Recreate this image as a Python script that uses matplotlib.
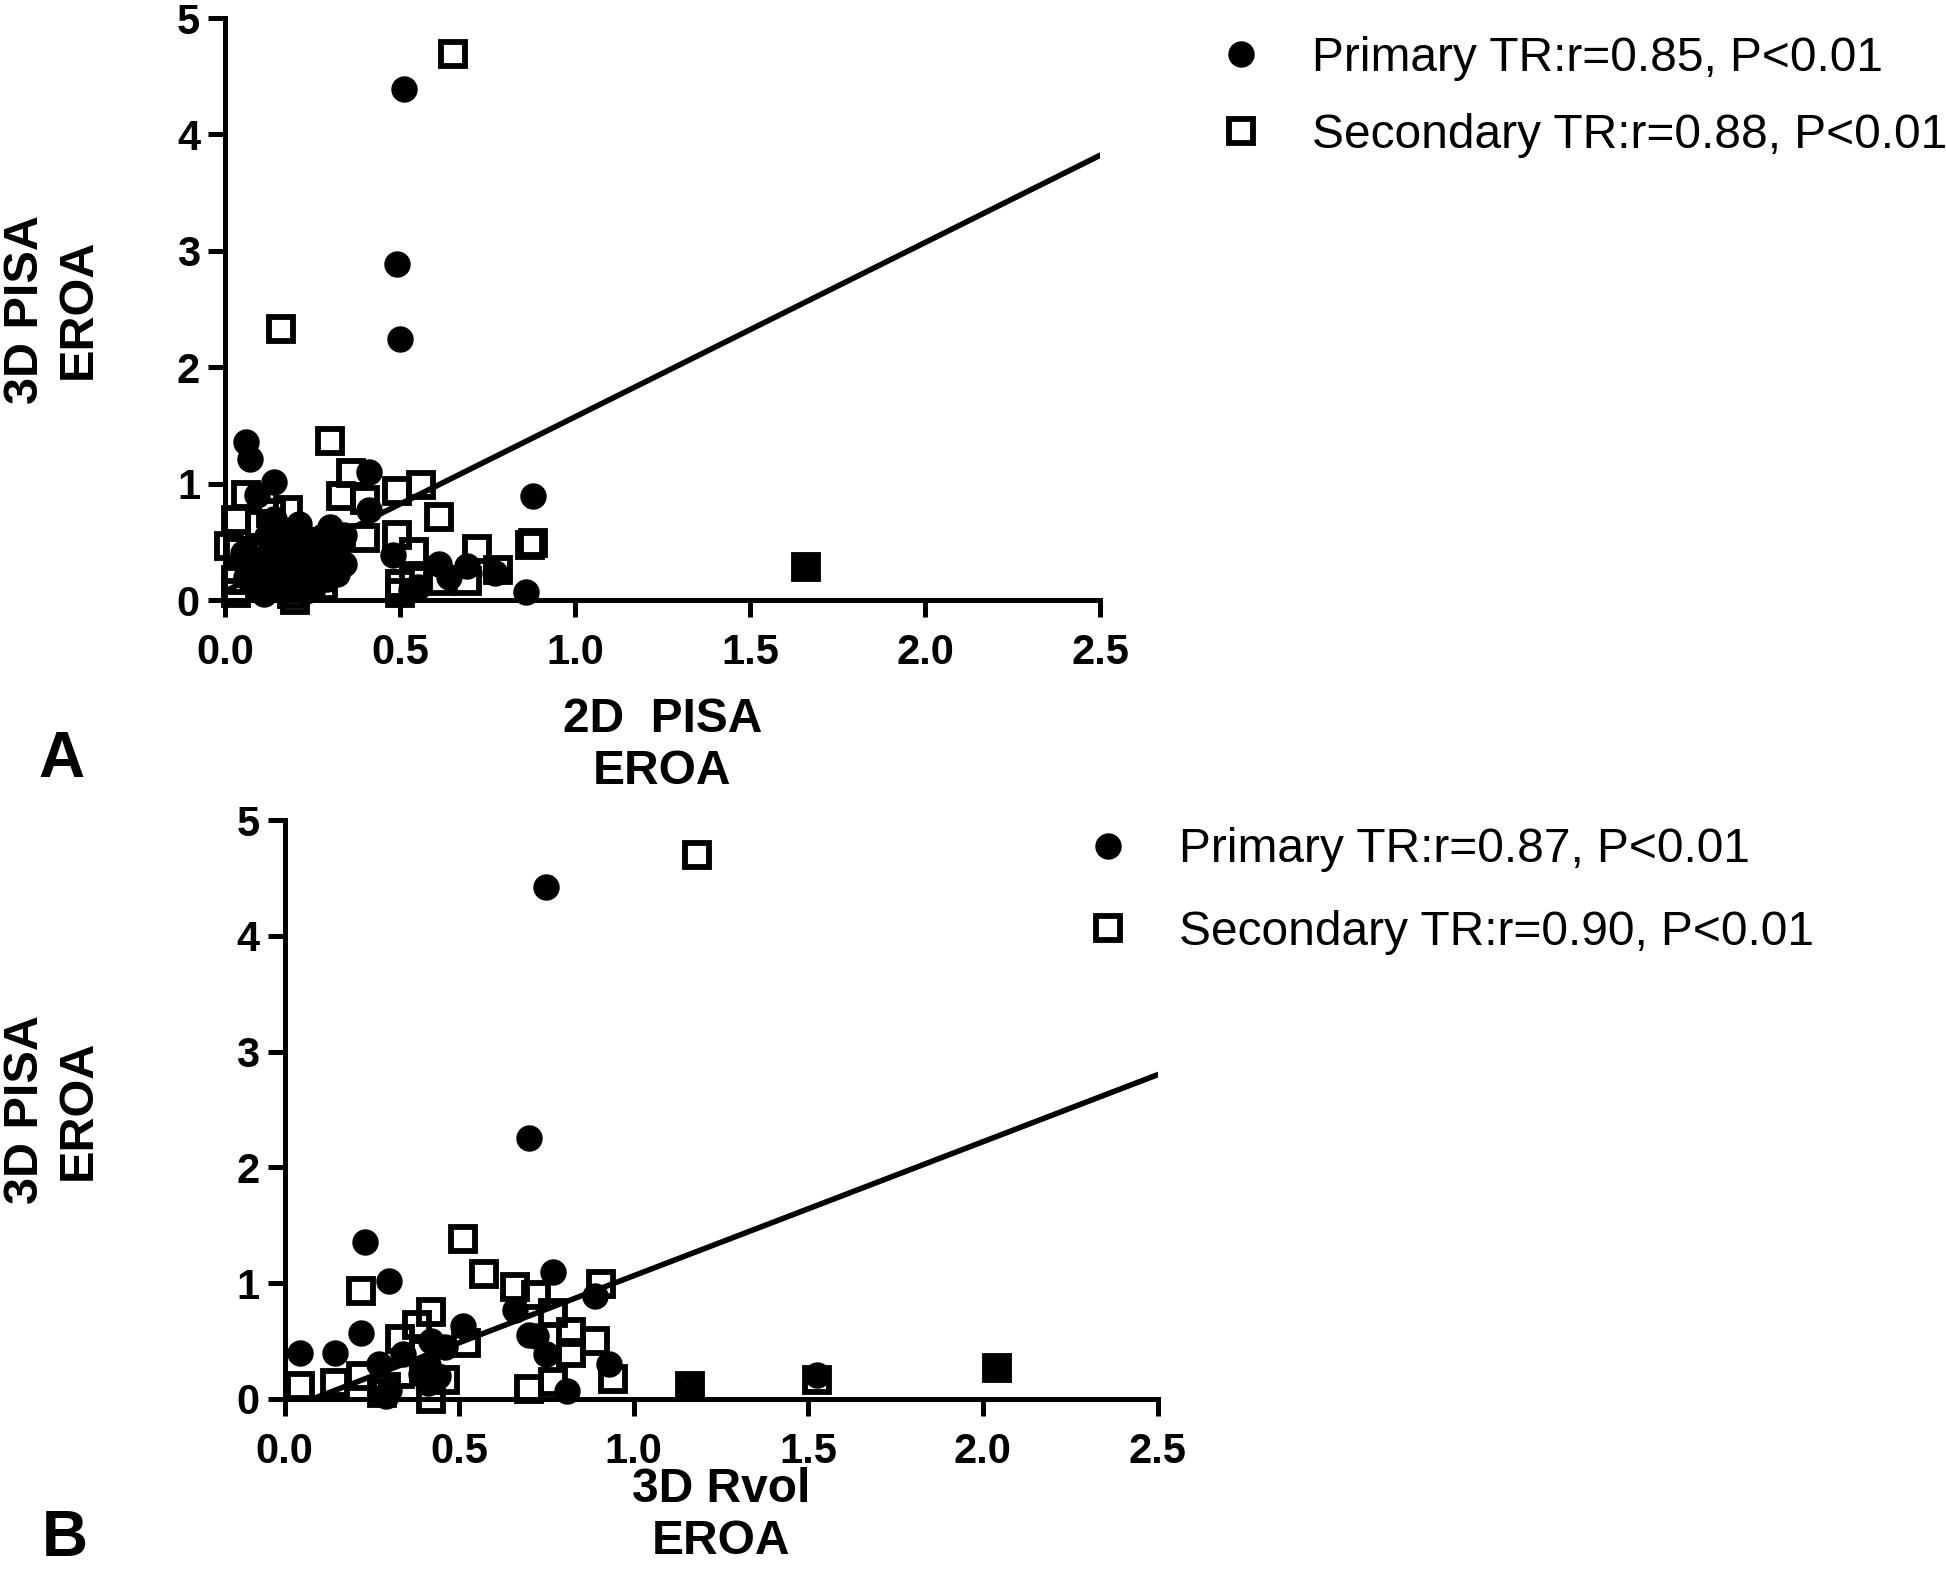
"""Two-panel scatter: 3D PISA EROA against 2D PISA EROA (A) and 3D Rvol EROA (B)."""

import matplotlib

matplotlib.use("Agg")
import matplotlib.pyplot as plt

# ---- panel A: 3D PISA vs 2D PISA ----
a_primary_x = [0.51, 0.49, 0.50, 0.06, 0.07, 0.14, 0.41, 0.09, 0.88, 0.41,
               0.30, 0.21, 0.34, 0.34, 0.48, 0.61, 0.69, 0.77, 0.53, 0.86,
               0.55, 0.12, 0.15, 0.10, 0.18, 0.22, 0.13, 0.08, 0.25, 0.28,
               0.17, 0.05, 0.20, 0.27, 0.11, 0.24, 0.16, 0.31, 1.66, 0.64,
               0.19, 0.29, 0.14, 0.23, 0.12, 0.14, 0.20, 0.22, 0.26, 0.30,
               0.32, 0.18, 0.25, 0.09, 0.06, 0.16, 0.33]
a_primary_y = [4.39, 2.89, 2.24, 1.36, 1.21, 1.01, 1.10, 0.90, 0.89, 0.77,
               0.63, 0.65, 0.56, 0.31, 0.39, 0.31, 0.29, 0.23, 0.09, 0.07,
               0.11, 0.55, 0.45, 0.35, 0.30, 0.20, 0.15, 0.25, 0.40, 0.55,
               0.60, 0.40, 0.10, 0.28, 0.05, 0.52, 0.22, 0.45, 0.28, 0.20,
               0.42, 0.18, 0.70, 0.08, 0.30, 0.38, 0.50, 0.32, 0.35, 0.40,
               0.22, 0.15, 0.10, 0.10, 0.20, 0.35, 0.50]
a_secondary_x = [0.65, 0.16, 0.30, 0.36, 0.49, 0.56, 0.33, 0.40, 0.61, 0.40,
                 0.49, 0.54, 0.72, 0.78, 0.50, 0.50, 0.54, 0.87, 0.88, 1.66,
                 0.06, 0.03, 0.18, 0.01, 0.03, 0.03, 0.20, 0.07, 0.12, 0.10,
                 0.15, 0.22, 0.26, 0.14, 0.28, 0.09, 0.62, 0.69, 0.04, 0.25,
                 0.13, 0.19]
a_secondary_y = [4.69, 2.33, 1.37, 1.09, 0.94, 0.99, 0.89, 0.86, 0.71, 0.53,
                 0.56, 0.41, 0.44, 0.26, 0.14, 0.06, 0.17, 0.47, 0.49, 0.28,
                 0.90, 0.69, 0.77, 0.46, 0.17, 0.06, 0.00, 0.30, 0.42, 0.65,
                 0.10, 0.35, 0.20, 0.55, 0.12, 0.20, 0.16, 0.16, 0.42, 0.44,
                 0.75, 0.05]
a_fit_x = [0.0, 2.5]
a_fit_y = [0.075, 3.82]

# ---- panel B: 3D PISA vs 3D Rvol ----
b_primary_x = [0.75, 0.70, 0.23, 0.30, 0.77, 0.89, 0.66, 0.22, 0.045, 0.145,
               0.51, 0.42, 0.46, 0.34, 0.27, 0.41, 0.41, 0.72, 0.75, 0.93,
               0.81, 0.30, 0.29, 0.39, 1.16, 1.525, 2.04, 0.70, 0.44]
b_primary_y = [4.42, 2.25, 1.36, 1.02, 1.10, 0.89, 0.77, 0.57, 0.40, 0.40,
               0.63, 0.50, 0.45, 0.39, 0.30, 0.29, 0.14, 0.54, 0.39, 0.30,
               0.07, 0.08, 0.03, 0.22, 0.11, 0.21, 0.28, 0.55, 0.20]
b_secondary_x = [1.18, 0.51, 0.57, 0.22, 0.66, 0.72, 0.905, 0.77, 0.42, 0.38,
                 0.33, 0.52, 0.82, 0.89, 0.82, 0.045, 0.145, 0.22, 0.29, 0.33,
                 0.46, 0.42, 0.70, 0.77, 0.94, 1.16, 1.525, 2.04, 0.40, 0.28]
b_secondary_y = [4.70, 1.38, 1.08, 0.93, 0.97, 0.90, 0.99, 0.74, 0.75, 0.64,
                 0.52, 0.48, 0.58, 0.50, 0.40, 0.11, 0.14, 0.20, 0.10, 0.22,
                 0.16, 0.00, 0.09, 0.15, 0.17, 0.11, 0.16, 0.27, 0.40, 0.05]
b_fit_x = [0.08, 2.5]
b_fit_y = [0.0, 2.80]

x_ticks = [0.0, 0.5, 1.0, 1.5, 2.0, 2.5]
y_ticks = [0, 1, 2, 3, 4, 5]

plt.rcParams["font.family"] = ["Liberation Sans", "DejaVu Sans"]

fig = plt.figure(figsize=(19.46, 15.91), dpi=100)


def panel(rect, px, py, sx, sy, fx, fy, xlabel, xlabel_y, labels, leg_xy, leg_spacing):
    ax = fig.add_axes(rect)
    sq, = ax.plot(sx, sy, "s", ms=17, mfc="none", mec="black", mew=4.2,
                  clip_on=False, zorder=2, linestyle="none")
    ci, = ax.plot(px, py, "o", ms=18, color="black", clip_on=False, zorder=3,
                  linestyle="none")
    ax.plot(fx, fy, color="black", lw=4.0, zorder=4)

    ax.set_xlim(0, 2.5)
    ax.set_ylim(0, 5)
    ax.set_xticks(x_ticks)
    ax.set_xticklabels([f"{t:.1f}" for t in x_ticks])
    ax.set_yticks(y_ticks)
    for side in ("top", "right"):
        ax.spines[side].set_visible(False)
    for side in ("left", "bottom"):
        ax.spines[side].set_linewidth(3.6)
    ax.tick_params(width=3.6, length=12, labelsize=30)
    ax.tick_params(axis="x", pad=12)
    ax.tick_params(axis="y", pad=6)
    for lab in ax.get_xticklabels() + ax.get_yticklabels():
        lab.set_fontweight("bold")

    ax.set_xlabel(xlabel, fontsize=34.5, fontweight="bold", va="center",
                  linespacing=1.2)
    ax.xaxis.set_label_coords((rect[0] + rect[2] / 2), xlabel_y,
                              transform=fig.transFigure)
    ax.set_ylabel("3D PISA\nEROA", fontsize=35, fontweight="bold", va="center",
                  ha="center", linespacing=1.2)
    ax.yaxis.set_label_coords(52 / 1946, rect[1] + rect[3] / 2,
                              transform=fig.transFigure)

    ax.legend([ci, sq], labels, loc="center left", bbox_to_anchor=leg_xy,
              bbox_transform=fig.transFigure, frameon=False, fontsize=34.5,
              handlelength=1.0, handletextpad=0.975, borderpad=0,
              borderaxespad=0, labelspacing=leg_spacing, numpoints=1)
    return ax


panel([225 / 1946, 1 - 600 / 1591, 875 / 1946, 582 / 1591],
      a_primary_x, a_primary_y, a_secondary_x, a_secondary_y, a_fit_x, a_fit_y,
      "2D  PISA\nEROA", 1 - 745 / 1591,
      ["Primary TR:r=0.85, P<0.01", "Secondary TR:r=0.88, P<0.01"],
      (1217 / 1946, 1 - 97 / 1591), 0.66)

panel([284.5 / 1946, 1 - 1399 / 1591, 873 / 1946, 579 / 1591],
      b_primary_x, b_primary_y, b_secondary_x, b_secondary_y, b_fit_x, b_fit_y,
      "3D Rvol\nEROA", 1 - 1515 / 1591,
      ["Primary TR:r=0.87, P<0.01", "Secondary TR:r=0.90, P<0.01"],
      (1084 / 1946, 1 - 891 / 1591), 0.78)

fig.text(61 / 1946, 1 - 760 / 1591, "A", fontsize=46, fontweight="bold",
         ha="center", va="center")
fig.text(65 / 1946, 1 - 1539 / 1591, "B", fontsize=46, fontweight="bold",
         ha="center", va="center")

fig.savefig("out.png", dpi=100)
